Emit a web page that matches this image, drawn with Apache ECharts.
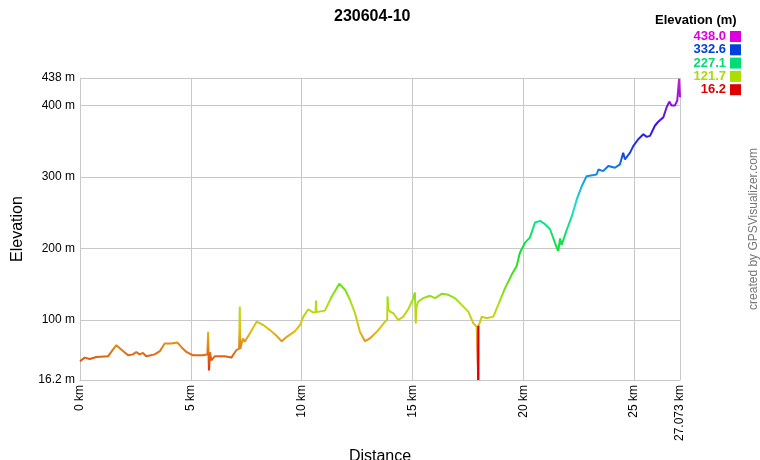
<!DOCTYPE html>
<html>
<head>
<meta charset="utf-8">
<script src="https://cdn.jsdelivr.net/npm/echarts@6/dist/echarts.min.js"></script>
<style>html,body{margin:0;padding:0;background:#fff;}#c{width:760px;height:460px;}</style>
</head>
<body>
<div id="c"></div>
<script>
const distances = [0.00,0.03,0.21,0.44,0.74,1.26,1.41,1.64,1.86,2.17,2.39,2.54,2.69,2.84,2.99,3.37,3.60,3.82,4.12,4.39,4.57,4.80,5.10,5.55,5.75,5.78,5.80,5.82,5.87,5.92,6.08,6.53,6.83,7.05,7.18,7.21,7.23,7.35,7.43,7.66,7.97,8.27,8.57,8.88,9.10,9.33,9.70,9.93,10.08,10.30,10.53,10.63,10.65,10.67,10.75,11.05,11.36,11.70,11.96,12.18,12.41,12.63,12.86,13.08,13.46,13.76,13.86,13.88,13.91,13.99,14.14,14.36,14.59,14.81,15.04,15.11,15.15,15.18,15.26,15.49,15.79,16.02,16.32,16.62,16.92,17.22,17.52,17.75,17.90,17.96,17.97,17.99,18.13,18.35,18.65,18.87,19.18,19.48,19.70,19.85,20.08,20.30,20.53,20.76,20.98,21.21,21.51,21.58,21.66,21.73,21.96,22.19,22.41,22.64,22.86,23.31,23.39,23.61,23.84,24.14,24.36,24.51,24.59,24.82,24.97,25.19,25.42,25.57,25.72,25.94,26.09,26.32,26.47,26.59,26.69,26.84,26.95,27.03,27.073];
const elevations = [42.5,43.7,47.5,45.5,48.3,49.3,55.4,64.8,58.7,50.7,52,55.4,52,54,49.3,52,56.4,67.2,67.2,68.6,62.4,55.4,50.7,50.7,52,83.6,50,29.6,55,43.7,49.3,49.3,47.5,57.8,60,118.8,60,74.2,69.5,81.2,97.6,93,85.9,77.5,70.4,76.5,84.5,93,104.7,115,110.3,111,127.2,111,111.7,113.1,132.8,150.7,142.2,128.2,109.4,83.6,70.4,74.2,85.9,97.6,100,132.8,115,111.7,109.4,100,104.7,115,130.5,138.4,95.3,118,125.8,130.5,133.8,130.5,136.6,135.2,130.5,121.1,111.7,95.3,90.6,92,16.2,92,104.7,102.4,104.7,121.1,144.6,163.4,175,193.9,208,215,236.1,238.4,233.8,226.8,201,196.2,214,204.6,225.7,244.6,268,286.8,300.9,303.2,310.2,308,315,312.6,317.3,333.7,324.3,333.7,343.2,352.5,359.5,355.8,357.2,371.3,376.9,383,397.1,405.1,399.5,399.5,406.5,437,411.2];
// the single-point drop to the minimum, drawn in the minimum's colour
const dropDistances = [17.97, 17.97];
const dropElevations = [92, 16.2];

const xTicks = [0, 5, 10, 15, 20, 25, 27.073];
const yTicks = [16.2, 100, 200, 300, 400, 438];
const legendValues = ['438.0', '332.6', '227.1', '121.7', '16.2'];
const legendColors = ['#dd00dd', '#0040dd', '#00dd77', '#aadd00', '#dd0000'];

const yMin = 16.2, yMax = 438;

function hsv(h, s, v) {
  const f = n => { const k = (n + h / 60) % 6; return v - v * s * Math.max(Math.min(k, 4 - k, 1), 0); };
  const c = x => Math.round(x * 255).toString(16).padStart(2, '0');
  return '#' + c(f(5)) + c(f(3)) + c(f(1));
}
const rampColors = [];
for (let i = 0; i <= 12; i++) rampColors.push(hsv(i * 25, 0.92, 0.88));

const lineData = distances.map((d, i) => [d, elevations[i]]);
const dropData = dropDistances.map((d, i) => [d, dropElevations[i]]);

const font = 'Arial, "Liberation Sans", sans-serif';
const graphics = [
  { type: 'text', left: 655, top: 14, style: { text: 'Elevation (m)', font: 'bold 13px ' + font, fill: '#000' } }
];
legendValues.forEach((v, i) => {
  const cy = 36.5 + i * 13.3;
  graphics.push({ type: 'text', x: 726, y: cy, style: { text: v, font: 'bold 13px ' + font, fill: legendColors[i], align: 'right', verticalAlign: 'middle' } });
  graphics.push({ type: 'rect', shape: { x: 730, y: cy - 5.5, width: 11, height: 11 }, style: { fill: legendColors[i] } });
});
graphics.push({ type: 'text', x: 754, y: 229, rotation: Math.PI / 2, style: { text: 'created by GPSVisualizer.com', font: '12px ' + font, fill: '#777', align: 'center', verticalAlign: 'middle' } });

const chart = echarts.init(document.getElementById('c'));
chart.setOption({
  animation: false,
  backgroundColor: '#fff',
  title: { text: '230604-10', left: 329, top: 4, textStyle: { fontFamily: font, fontWeight: 'bold', fontSize: 16, color: '#000' } },
  grid: { left: 80, right: 80, top: 78, bottom: 80, containLabel: false, outerBoundsMode: 'none' },
  xAxis: {
    type: 'value', min: 0, max: 27.073,
    name: 'Distance', nameLocation: 'middle', nameGap: 57,
    nameTextStyle: { fontFamily: font, fontSize: 16, color: '#000' },
    axisLine: { show: true, lineStyle: { color: '#c8c8c8', width: 1 } },
    axisTick: { show: false, customValues: xTicks },
    axisLabel: { customValues: xTicks, rotate: 90, margin: 5, fontFamily: font, fontSize: 12, color: '#000', formatter: v => v + ' km' },
    splitLine: { show: true, lineStyle: { color: '#c8c8c8', width: 1 } }
  },
  yAxis: {
    type: 'value', min: yMin, max: yMax,
    name: 'Elevation', nameLocation: 'middle', nameGap: 54,
    nameTextStyle: { fontFamily: font, fontSize: 16, color: '#000' },
    axisLine: { show: true, lineStyle: { color: '#c8c8c8', width: 1 } },
    axisTick: { show: false, customValues: yTicks },
    axisLabel: { customValues: yTicks, margin: 5, fontFamily: font, fontSize: 12, color: '#000', formatter: v => v + ' m' },
    splitLine: { show: true, lineStyle: { color: '#c8c8c8', width: 1 } }
  },
  visualMap: { show: false, type: 'continuous', seriesIndex: 0, dimension: 1, min: yMin, max: yMax, inRange: { color: rampColors } },
  series: [
    { type: 'line', data: lineData, showSymbol: false, lineStyle: { width: 2 }, z: 2 },
    { type: 'line', data: dropData, showSymbol: false, lineStyle: { width: 2, color: '#dd0000' }, itemStyle: { color: '#dd0000' }, z: 3 }
  ],
  graphic: graphics
});
</script>
</body>
</html>
